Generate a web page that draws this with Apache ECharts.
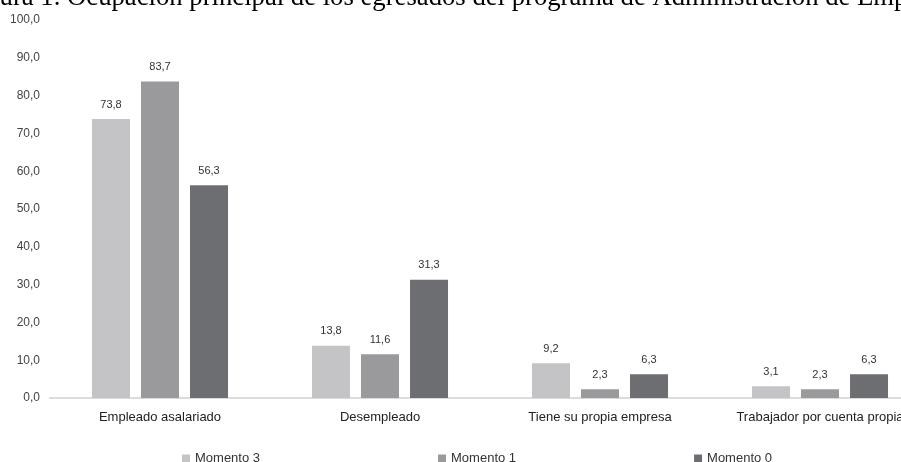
<!DOCTYPE html>
<html>
<head>
<meta charset="utf-8">
<script src="https://cdn.jsdelivr.net/npm/echarts@6/dist/echarts.min.js"></script>
<style>
  html, body { margin: 0; padding: 0; background: #fff; overflow: hidden; }
  #grafico { width: 935px; height: 462px; }
</style>
</head>
<body>
<div id="grafico"></div>
<script>
// datos del gráfico
var categorias = ['Empleado asalariado', 'Desempleado', 'Tiene su propia empresa', 'Trabajador por cuenta propia'];
var momento3 = [73.8, 13.8, 9.2, 3.1];
var momento1 = [83.7, 11.6, 2.3, 2.3];
var momento0 = [56.3, 31.3, 6.3, 6.3];
var titulo = 'Figura 1. Ocupación principal de los egresados del programa de Administración de Empresas';

function coma(v) {
    return Number(v).toFixed(1).replace('.', ',');
}

var chart = echarts.init(document.getElementById('grafico'));

var etiqueta = {
    show: true,
    position: 'top',
    distance: 9,
    fontFamily: 'Liberation Sans',
    fontSize: 11,
    color: '#333',
    formatter: function (p) { return coma(p.value); }
};

function serie(nombre, datos, color) {
    return {
        name: nombre,
        type: 'bar',
        barWidth: 38,
        barGap: '29%',
        itemStyle: { color: color },
        label: etiqueta,
        data: datos
    };
}

var option = {
    animation: false,
    graphic: [{
        type: 'text',
        left: -36,
        top: -16,
        style: {
            text: titulo,
            fontFamily: 'Liberation Serif',
            fontSize: 26.7,
            fill: '#000'
        }
    }],
    legend: {
        left: 177,
        top: 447,
        itemWidth: 8,
        itemHeight: 8,
        itemGap: 178,
        icon: 'rect',
        textStyle: { fontFamily: 'Liberation Sans', fontSize: 13, color: '#333' },
        data: ['Momento 3', 'Momento 1', 'Momento 0']
    },
    grid: { left: 50, top: 20, width: 880, height: 378 },
    xAxis: {
        type: 'category',
        data: categorias,
        axisLine: { show: true, lineStyle: { color: '#dcdcdc', width: 2 } },
        axisTick: { show: false },
        axisLabel: {
            margin: 13,
            interval: 0,
            fontFamily: 'Liberation Sans',
            fontSize: 13,
            color: '#222'
        }
    },
    yAxis: {
        type: 'value',
        min: 0,
        max: 100,
        interval: 10,
        axisLine: { show: false },
        axisTick: { show: false },
        splitLine: { show: false },
        axisLabel: {
            margin: 10,
            fontFamily: 'Liberation Sans',
            fontSize: 12,
            color: '#444',
            formatter: function (v) { return coma(v); }
        }
    },
    series: [
        serie('Momento 3', momento3, '#c4c4c6'),
        serie('Momento 1', momento1, '#9a9a9d'),
        serie('Momento 0', momento0, '#6d6e71')
    ]
};

chart.setOption(option);
</script>
</body>
</html>
